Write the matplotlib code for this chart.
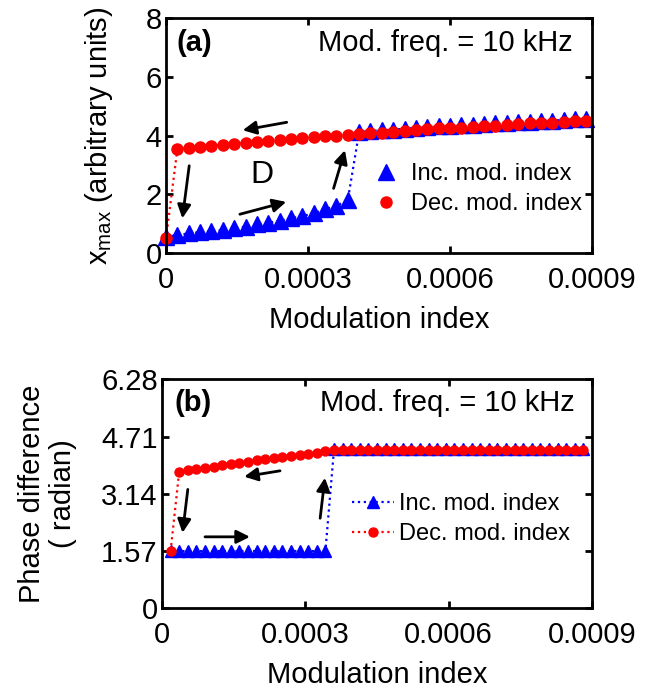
import matplotlib
matplotlib.use("Agg")
import matplotlib.pyplot as plt
from matplotlib.lines import Line2D

plt.rcParams['font.family'] = ['Liberation Sans', 'DejaVu Sans']
plt.rcParams['mathtext.fontset'] = 'custom'
plt.rcParams['mathtext.rm'] = 'Liberation Sans'
plt.rcParams['mathtext.it'] = 'Liberation Sans:italic'

# ---- panel (a): amplitude ----
mod_index_a = [0.0, 0.24, 0.48, 0.72, 0.96, 1.2, 1.44, 1.68, 1.92, 2.16, 2.4, 2.64, 2.88,
               3.12, 3.36, 3.6, 3.84, 4.08, 4.32, 4.56, 4.8, 5.04, 5.28, 5.52, 5.76, 6.0,
               6.24, 6.48, 6.72, 6.96, 7.2, 7.44, 7.68, 7.92, 8.16, 8.4, 8.64, 8.88]  # x 1e-4
xmax_inc = [0.55, 0.61, 0.67, 0.71, 0.74, 0.78, 0.84, 0.90, 0.98, 1.03, 1.10, 1.18, 1.26,
            1.35, 1.49, 1.60, 1.80,
            4.12, 4.15, 4.18, 4.20, 4.23, 4.26, 4.28, 4.31, 4.33, 4.35, 4.37, 4.39, 4.41,
            4.43, 4.45, 4.47, 4.49, 4.51, 4.53, 4.55, 4.57]
xmax_dec = [0.50,
            3.54, 3.58, 3.62, 3.65, 3.69, 3.72, 3.76, 3.79, 3.82, 3.85, 3.88, 3.91, 3.94,
            3.97, 3.99, 4.02,
            4.04, 4.07, 4.10, 4.13, 4.15, 4.18, 4.21, 4.24, 4.25, 4.27, 4.30, 4.32, 4.34,
            4.36, 4.39, 4.41, 4.42, 4.44, 4.46, 4.48, 4.49]

# ---- panel (b): phase ----
mod_index_b = [0.18, 0.36, 0.54, 0.72, 0.9, 1.08, 1.26, 1.44, 1.62, 1.8, 1.98, 2.16, 2.34,
               2.52, 2.7, 2.88, 3.06, 3.24, 3.42, 3.6, 3.78, 3.96, 4.14, 4.32, 4.5, 4.68,
               4.86, 5.04, 5.22, 5.4, 5.58, 5.76, 5.94, 6.12, 6.3, 6.48, 6.66, 6.84, 7.02,
               7.2, 7.38, 7.56, 7.74, 7.92, 8.1, 8.28, 8.46, 8.64, 8.82]  # x 1e-4
phase_inc = [1.57] * 19 + [4.36] * 30
phase_dec = ([1.57] +
             [3.75, 3.79, 3.82, 3.85, 3.88, 3.92, 3.96, 3.99, 4.02, 4.06, 4.10, 4.12, 4.16,
              4.19, 4.21, 4.24, 4.27, 4.31, 4.34] +
             [4.34] * 29)

xticks = [0, 0.0003, 0.0006, 0.0009]
xticklabels = ['0', '0.0003', '0.0006', '0.0009']
yticks_a = [0, 2, 4, 6, 8]
yticks_b = [0, 1.57, 3.14, 4.71, 6.28]
yticklabels_b = ['0', '1.57', '3.14', '4.71', '6.28']

# arrows: (start, end) in data units (x in 1e-4)
arrows_a = [((2.55, 4.45), (1.62, 4.18)),
            ((0.49, 2.97), (0.345, 1.18)),
            ((1.56, 1.32), (2.54, 1.74)),
            ((3.54, 2.20), (3.78, 3.50))]
arrows_b = [((2.47, 3.77), (1.72, 3.61)),
            ((0.54, 3.26), (0.43, 2.07)),
            ((0.90, 1.96), (1.84, 1.96)),
            ((3.31, 2.47), (3.41, 3.58))]

FS = 21
BLUE = '#0000ff'
RED = '#ff0000'


def style_axes(ax):
    for s in ax.spines.values():
        s.set_linewidth(2.0)
    ax.tick_params(direction='in', length=5, width=2.0, top=True, right=True,
                   labelsize=FS, pad=3)
    ax.tick_params(axis='x', pad=9)
    ax.set_xlim(0, 0.0009)
    ax.set_xticks(xticks)
    ax.set_xticklabels(xticklabels)
    ax.set_xlabel('Modulation index', fontsize=FS, labelpad=9)


fig = plt.figure(figsize=(6.48, 6.90), dpi=100)
ax_a = fig.add_axes([0.2562, 0.6333, 0.6574, 0.3406])
ax_b = fig.add_axes([0.25, 0.1184, 0.6636, 0.3319])

xa = [v * 1e-4 for v in mod_index_a]
xb = [v * 1e-4 for v in mod_index_b]

# panel (a)
ax_a.plot(xa, xmax_inc, ls=':', lw=1.6, color=BLUE, marker='^', ms=11,
          mec=BLUE, mfc=BLUE, clip_on=False)
ax_a.plot(xa, xmax_dec, ls=':', lw=1.6, color=RED, marker='o', ms=8,
          mec=RED, mfc=RED, clip_on=False)
style_axes(ax_a)
ax_a.set_ylim(0, 8)
ax_a.set_yticks(yticks_a)
ax_a.set_ylabel(r'x$_{\mathrm{max}}$ (arbitrary units)', fontsize=FS, labelpad=22)
ax_a.text(0.025, 0.895, '(a)', transform=ax_a.transAxes, fontsize=FS,
          fontweight='bold', va='center', ha='left')
ax_a.text(0.955, 0.895, 'Mod. freq. = 10 kHz', transform=ax_a.transAxes,
          fontsize=FS, va='center', ha='right')
ax_a.text(2.02e-4, 2.65, 'D', fontsize=FS + 2, ha='center', va='center')
for (x0, y0), (x1, y1) in arrows_a:
    ax_a.annotate('', xy=(x1 * 1e-4, y1), xytext=(x0 * 1e-4, y0),
                  arrowprops=dict(arrowstyle='-|>', color='k', lw=2.0,
                                  mutation_scale=20, shrinkA=0, shrinkB=0))
handles_a = [Line2D([], [], ls='none', marker='^', ms=11, color=BLUE),
             Line2D([], [], ls='none', marker='o', ms=8, color=RED)]
ax_a.legend(handles_a, ['Inc. mod. index', 'Dec. mod. index'], loc='center right',
            bbox_to_anchor=(0.976, 0.271), frameon=False, fontsize=17,
            handlelength=1.0, handletextpad=0.55, borderaxespad=0, borderpad=0,
            labelspacing=0.35)

# panel (b)
ax_b.plot(xb, phase_inc, ls=':', lw=1.6, color=BLUE, marker='^', ms=8,
          mec=BLUE, mfc=BLUE, clip_on=False, label='Inc. mod. index')
ax_b.plot(xb, phase_dec, ls=':', lw=1.6, color=RED, marker='o', ms=6.5,
          mec=RED, mfc=RED, clip_on=False, label='Dec. mod. index')
style_axes(ax_b)
ax_b.set_ylim(0, 6.28)
ax_b.set_yticks(yticks_b)
ax_b.set_yticklabels(yticklabels_b)
ax_b.set_ylabel('Phase difference\n( radian)', fontsize=FS, labelpad=17,
                multialignment='center', linespacing=1.15)
ax_b.text(0.03, 0.898, '(b)', transform=ax_b.transAxes, fontsize=FS,
          fontweight='bold', va='center', ha='left')
ax_b.text(0.96, 0.898, 'Mod. freq. = 10 kHz', transform=ax_b.transAxes,
          fontsize=FS, va='center', ha='right')
for (x0, y0), (x1, y1) in arrows_b:
    ax_b.annotate('', xy=(x1 * 1e-4, y1), xytext=(x0 * 1e-4, y0),
                  arrowprops=dict(arrowstyle='-|>', color='k', lw=2.0,
                                  mutation_scale=20, shrinkA=0, shrinkB=0))
ax_b.legend(loc='center right', bbox_to_anchor=(0.949, 0.389), frameon=False,
            fontsize=17, handlelength=1.8, handletextpad=0.2, borderaxespad=0,
            borderpad=0, labelspacing=0.35)

fig.savefig('out.png', dpi=100)
